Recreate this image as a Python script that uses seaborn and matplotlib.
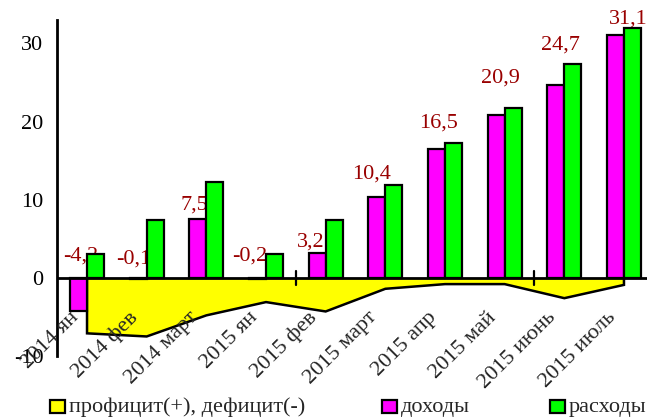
import matplotlib
matplotlib.use("Agg")
import matplotlib.pyplot as plt
import matplotlib.transforms as mtransforms
from matplotlib.patches import Rectangle
import seaborn as sns
import pandas as pd

categories = ["2014 ян", "2014 фев", "2014 март", "2015 ян", "2015 фев",
              "2015 март", "2015 апр", "2015 май", "2015 июнь", "2015 июль"]
dokhody = [-4.2, -0.1, 7.5, -0.2, 3.2, 10.4, 16.5, 20.9, 24.7, 31.1]
raskhody = [3.0, 7.4, 12.3, 3.0, 7.4, 11.9, 17.2, 21.8, 27.4, 32.0]
saldo = [-7.1, -7.5, -4.8, -3.1, -4.3, -1.4, -0.8, -0.8, -2.6, -0.9]
value_labels = ["-4,2", "-0,1", "7,5", "-0,2", "3,2", "10,4", "16,5", "20,9", "24,7", "31,1"]
y_ticks = [-10, 0, 10, 20, 30]

# label offsets in pixels (dx, dy) relative to the top of the magenta bar / zero
label_dx = [2, -5, -3, -8, -6, -5, 2, 4, 5, 13]
label_dy = [12, 9, 5, 12, 1, 13, 16, 27, 30, 6]

sns.set_style("white")
plt.rcParams["font.family"] = ["Liberation Serif", "DejaVu Serif"]
FS = 16

fig = plt.figure(figsize=(6.47, 4.19), dpi=100)
W, H = 647, 419
left_px, right_px = 57.2, 653.8
top_px, bot_px = 20, 356
ax = fig.add_axes([left_px / W, (H - bot_px) / H, (right_px - left_px) / W, (bot_px - top_px) / H])

df = pd.DataFrame({
    "cat": categories * 2,
    "val": dokhody + raskhody,
    "series": ["доходы"] * len(categories) + ["расходы"] * len(categories),
})

x = list(range(len(categories)))

# deficit area
ax.fill_between(x, saldo, 0, color="#FFFF00", zorder=1, linewidth=0)
ax.plot([x[0]] + x + [x[-1]], [0] + saldo + [0], color="black", lw=1.8, zorder=2,
        solid_joinstyle="miter")

sns.barplot(data=df, x="cat", y="val", hue="series", order=categories,
            hue_order=["доходы", "расходы"],
            palette={"доходы": "#FF00FF", "расходы": "#00FF00"},
            width=0.57, edgecolor="black", linewidth=1.6, legend=False,
            ax=ax, zorder=3, saturation=1)

ax.set_xlim(-0.5, len(categories) - 0.5)
ax.set_ylim(-10, 33)
ax.set_xlabel("")
ax.set_ylabel("")

for s in ["top", "right", "bottom"]:
    ax.spines[s].set_visible(False)
ax.spines["left"].set_linewidth(2)
ax.spines["left"].set_color("black")

# zero line
ax.axhline(0, color="black", lw=2, zorder=4)
# small crossing ticks on zero line
for tx in [3.5, 7.5]:
    ax.plot([tx, tx], [-0.9, 0.9], color="black", lw=1.6, zorder=4)

ax.set_yticks(y_ticks)
ax.set_yticklabels([str(v) for v in y_ticks], fontsize=FS)
ax.tick_params(axis="y", direction="inout", length=14, width=2, pad=3, colors="black")
ax.set_xticks([])

# category labels near zero line
for i, c in enumerate(categories):
    off = mtransforms.ScaledTranslation(-11 / 100, -37 / 100, fig.dpi_scale_trans)
    ax.text(i, 0, c, rotation=45, ha="right", va="center", rotation_mode="anchor",
            fontsize=FS, transform=ax.transData + off, zorder=5)

# value labels
bw = 0.57 / 2
for i, (lab, d) in enumerate(zip(value_labels, dokhody)):
    off = mtransforms.ScaledTranslation(label_dx[i] / 100, label_dy[i] / 100, fig.dpi_scale_trans)
    ax.text(i - bw / 2, max(d, 0), lab, ha="center", va="bottom", fontsize=FS,
            color="#990000", transform=ax.transData + off, zorder=2)

# legend
entries = [("профицит(+), дефицит(-)", "#FFFF00", 50),
           ("доходы", "#FF00FF", 382),
           ("расходы", "#00FF00", 550)]
for text, col, px in entries:
    fig.patches.append(Rectangle((px / W, (H - 413) / H), 15 / W, 13 / H,
                                 transform=fig.transFigure, facecolor=col,
                                 edgecolor="black", linewidth=1.6))
    fig.text((px + 19) / W, (H - 407) / H, text, ha="left", va="center", fontsize=FS)

fig.savefig("out.png", dpi=100)
